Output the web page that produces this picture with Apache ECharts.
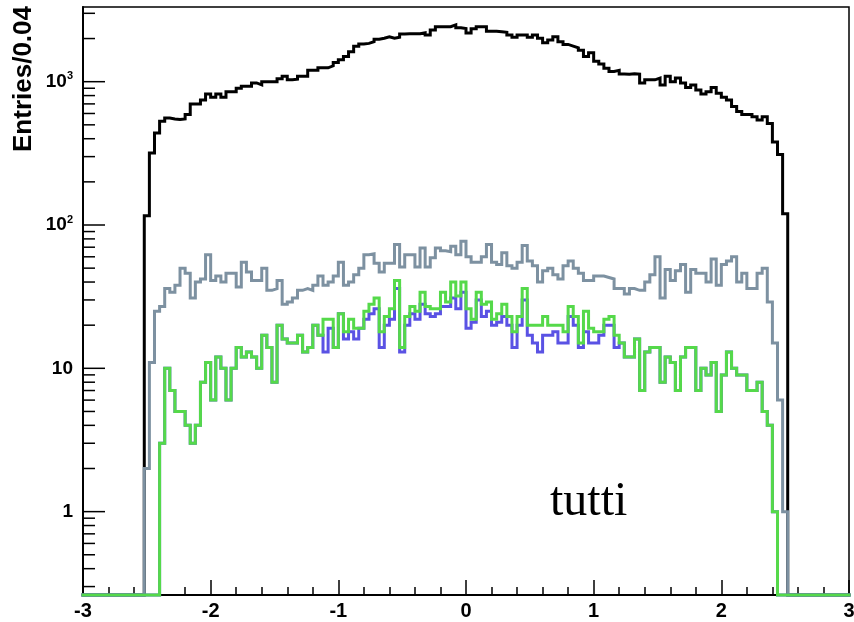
<!DOCTYPE html>
<html>
<head>
<meta charset="utf-8">
<title>Entries/0.04</title>
<script src="https://cdn.jsdelivr.net/npm/echarts@6/dist/echarts.min.js"></script>
<style>
  html, body { margin: 0; padding: 0; background: #ffffff; }
  #chart { width: 854px; height: 622px; }
</style>
</head>
<body>
<div id="chart"></div>
<script>
// Histogram binning: 150 bins of width 0.04 from -3 to 3
const binLow = -3;
const binWidth = 0.04;

// Bin contents, one value per bin (index 0 = [-3.00, -2.96])
const allEntries = [
  0,0,0,0,0,0,0,0,0,0,0,0,
  116,318,438,530,558,550,545,550,590,700,
  700,745,820,780,820,780,850,850,900,930,
  930,980,950,1000,1000,1000,1050,1090,1030,1040,
  1090,1090,1200,1200,1250,1250,1290,1360,1420,1500,
  1620,1770,1830,1850,1900,1980,2010,2060,2010,2040,
  2150,2160,2160,2160,2190,2120,2290,2420,2420,2420,
  2490,2380,2350,2190,2340,2420,2420,2250,2250,2230,
  2210,2120,2040,2120,2120,2040,2120,2010,1870,1950,
  2060,1900,1820,1770,1720,1660,1500,1590,1390,1330,
  1240,1180,1200,1130,1125,1135,1130,980,1030,1030,
  1060,950,1090,1000,1060,980,910,950,875,820,
  850,910,830,780,745,670,620,590,590,570,
  540,570,510,380,310,120,
  0,0,0,0,0,0,0,0,0,0,0,0
];

const grayEntries = [
  0,0,0,0,0,0,0,0,0,0,0,0,
  2,11,25,27,36,34,38,50,46,31,
  40,42,62,41,44,40,46,46,37,55,
  47,41,41,50,35,36,41,28,29,31,
  35,36,35,38,44,38,40,44,55,38,
  40,45,50,62,63,54,47,54,54,73,
  51,62,62,51,69,51,59,69,66,65,
  71,62,77,60,55,55,60,73,55,53,
  64,52,50,55,72,56,52,40,48,50,
  45,42,52,56,50,46,41,41,44,44,
  43,42,36,36,33,36,35,35,40,45,
  60,31,49,41,48,53,34,49,46,46,
  40,58,38,53,56,60,40,46,36,36,
  46,50,29,15,6,1,
  0,0,0,0,0,0,0,0,0,0,0,0
];

const blueEntries = [
  0,0,0,0,0,0,0,0,0,0,0,0,
  0,0,0,3,10,7,5,5,4,3,
  4,8,11,6,12,10,6,10,14,12,
  13,12,10,17,14,8,20,16,15,15,
  17,13,14,20,17,13,19,14,24,16,
  18,16,19,22,24,26,14,20,22,36,
  13,20,24,22,28,24,23,24,27,27,
  31,26,34,19,21,30,23,25,20,21,
  23,20,14,20,30,17,15,13,17,17,
  18,15,15,23,20,14,18,15,15,17,
  20,20,14,15,12,12,16,7,13,14,
  14,8,12,11,7,12,14,14,7,10,
  9,11,5,9,13,10,9,9,7,7,
  8,5,4,1,0,0,
  0,0,0,0,0,0,0,0,0,0,0,0
];

const greenEntries = [
  0,0,0,0,0,0,0,0,0,0,0,0,
  0,0,0,3,10,7,5,5,4,3,
  4,8,11,6,12,10,6,10,14,12,
  13,12,10,17,14,8,20,16,15,15,
  17,13,14,20,17,22,22,14,24,18,
  22,19,19,25,28,31,18,23,26,41,
  14,23,27,25,34,27,26,26,34,29,
  40,32,40,26,22,34,28,29,22,24,
  28,23,18,23,36,20,20,20,23,20,
  20,20,18,27,23,15,25,19,18,18,
  22,23,17,15,12,12,16,7,13,14,
  14,8,12,11,7,12,14,14,7,10,
  9,11,5,9,13,10,9,9,7,7,
  8,5,4,1,0,0,
  0,0,0,0,0,0,0,0,0,0,0,0
];

// Axis ranges and tick labels
const xMin = -3, xMax = 3;
const yMin = 0.262, yMax = 3320;
const xTickValues = [-3, -2, -1, 0, 1, 2, 3];
const xTickLabels = ['-3', '-2', '-1', '0', '1', '2', '3'];
const yTickValues = [1, 10, 100, 1000];
const yTickBase = ['1', '10', '10', '10'];
const yTickExponent = ['', '', '2', '3'];

// Histogram outline: two points per bin so that bin edges become vertical steps.
// Empty bins sit on the lower edge of the frame.
function histogramOutline(values) {
  const pts = [];
  values.forEach((v, i) => {
    const lo = binLow + i * binWidth;
    const hi = binLow + (i + 1) * binWidth;
    const y = v > 0 ? v : yMin;
    pts.push([lo, y], [hi, y]);
  });
  return pts;
}

// Log-axis tick marks: decades are major, 2..9 multiples are minor
const yTickMarks = [];
for (let k = -1; k <= 3; k++) {
  for (let m = 1; m <= 9; m++) {
    const v = m * Math.pow(10, k);
    if (v > yMin && v < yMax) yTickMarks.push([v, m === 1 ? 1 : 0]);
  }
}

const chart = echarts.init(document.getElementById('chart'), null, { renderer: 'canvas' });

function stepSeries(name, values, color, width) {
  return {
    name: name,
    type: 'line',
    data: histogramOutline(values),
    symbol: 'none',
    clip: false,
    silent: true,
    lineStyle: { color: color, width: width, join: 'miter', cap: 'square' },
    emphasis: { disabled: true }
  };
}

const sansFamily = 'Liberation Sans, Arial, sans-serif';

chart.setOption({
  animation: false,
  backgroundColor: '#ffffff',
  grid: {
    left: 83, right: 5, top: 7, bottom: 27,
    containLabel: false,
    outerBoundsMode: 'none',
    show: true,
    borderColor: '#000',
    borderWidth: 1.5,
    backgroundColor: 'transparent'
  },
  xAxis: {
    type: 'value',
    min: xMin,
    max: xMax,
    interval: 1,
    axisLine: { show: true, onZero: false, lineStyle: { color: '#000', width: 2 } },
    axisTick: { show: true, inside: true, length: 15, lineStyle: { color: '#000', width: 1.5 } },
    minorTick: { show: true, splitNumber: 5, length: 8, lineStyle: { color: '#000', width: 1.5 } },
    splitLine: { show: false },
    minorSplitLine: { show: false },
    axisLabel: {
      fontFamily: sansFamily,
      fontWeight: 'bold',
      color: '#000',
      fontSize: 20,
      margin: 6,
      formatter: function (v) {
        const idx = xTickValues.findIndex(t => Math.abs(t - v) < 1e-6);
        return idx >= 0 ? xTickLabels[idx] : '';
      }
    }
  },
  yAxis: {
    type: 'log',
    logBase: 10,
    min: yMin,
    max: yMax,
    axisLine: { show: true, onZero: false, lineStyle: { color: '#000', width: 2 } },
    axisTick: { show: false },
    splitLine: { show: false },
    minorTick: { show: false },
    axisLabel: {
      margin: 10,
      showMinLabel: false,
      showMaxLabel: false,
      formatter: function (v) {
        const idx = yTickValues.findIndex(t => Math.abs(t - v) / t < 1e-6);
        if (idx < 0) return '';
        let s = '{b|' + yTickBase[idx] + '}';
        if (yTickExponent[idx]) s += '{s|' + yTickExponent[idx] + '}';
        return s;
      },
      rich: {
        b: { fontSize: 19, fontWeight: 'bold', fontFamily: sansFamily, color: '#000', lineHeight: 22 },
        s: { fontSize: 11, fontWeight: 'bold', fontFamily: sansFamily, color: '#000', verticalAlign: 'top', lineHeight: 12 }
      }
    }
  },
  series: [
    stepSeries('all', allEntries, '#000000', 3),
    stepSeries('gray', grayEntries, '#7d91a1', 3),
    stepSeries('blue', blueEntries, '#5a52e4', 3),
    stepSeries('green', greenEntries, '#55d94a', 3),
    {
      name: 'yTicks',
      type: 'custom',
      silent: true,
      clip: false,
      data: yTickMarks,
      z: 5,
      renderItem: function (params, api) {
        const p = api.coord([xMin, api.value(0)]);
        const len = api.value(1) ? 22 : 12;
        return {
          type: 'line',
          shape: { x1: p[0], y1: p[1], x2: p[0] + len, y2: p[1] },
          style: { stroke: '#000', lineWidth: 1.5 }
        };
      }
    }
  ],
  graphic: [
    {
      type: 'text',
      x: 24,
      y: 6,
      rotation: Math.PI / 2,
      style: {
        text: 'Entries/0.04',
        fontFamily: sansFamily,
        fontWeight: 'bold',
        fontSize: 26,
        fill: '#000',
        align: 'right',
        verticalAlign: 'middle'
      }
    },
    {
      type: 'text',
      x: 550,
      y: 502,
      style: {
        text: 'tutti',
        fontFamily: 'Liberation Serif, Times New Roman, serif',
        fontSize: 48,
        fill: '#000',
        align: 'left',
        verticalAlign: 'middle'
      }
    }
  ]
});
</script>
</body>
</html>
